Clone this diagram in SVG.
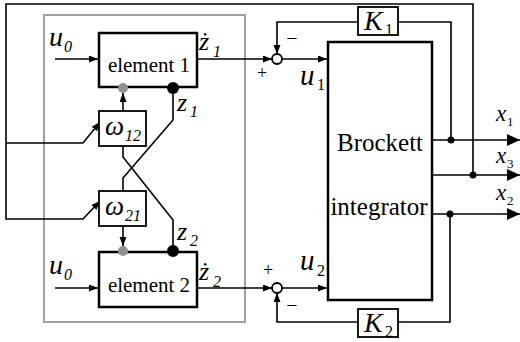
<svg xmlns="http://www.w3.org/2000/svg" width="520" height="342" viewBox="0 0 520 342">
<style>
.ln{fill:none;stroke:#000;stroke-width:1.6}
.box{fill:#fff;stroke:#000;stroke-width:2.5}
.sbox{fill:#fff;stroke:#000;stroke-width:1.8}
.i{font-style:italic}
.big{font-size:25px}
.el{font-size:21px}
.var{font-size:28px}
.sub{font-size:16px}
.sum{fill:#fff;stroke:#000;stroke-width:1.8}
</style>
<defs>
<marker id="a" markerUnits="userSpaceOnUse" markerWidth="10" markerHeight="8" refX="9" refY="3.5" orient="auto"><path d="M0,0 L9,3.5 L0,7 z" fill="#000"/></marker>
<marker id="A" markerUnits="userSpaceOnUse" markerWidth="14" markerHeight="13" refX="13" refY="6" orient="auto"><path d="M0,0 L13,6 L0,12 z" fill="#000"/></marker>
</defs>
<rect x="44" y="15" width="201" height="307" fill="none" stroke="#a0a0a0" stroke-width="2"/>
<g id="connectors">
<polyline class="ln" points="473,175 473,4 6,4 6,219 83,219 100,201" marker-end="url(#a)"/>
<polyline class="ln" points="6,143 83,143 100,122" marker-end="url(#a)"/>
<line class="ln" x1="55" y1="59" x2="98" y2="59" marker-end="url(#a)"/>
<line class="ln" x1="55" y1="288" x2="98" y2="288" marker-end="url(#a)"/>
<line class="ln" x1="197" y1="59" x2="272" y2="59" marker-end="url(#a)"/>
<line class="ln" x1="282" y1="59" x2="327" y2="59" marker-end="url(#a)"/>
<line class="ln" x1="197" y1="288" x2="272" y2="288" marker-end="url(#a)"/>
<line class="ln" x1="282" y1="288" x2="327" y2="288" marker-end="url(#a)"/>
<polyline class="ln" points="451,140 451,22 398,22"/>
<polyline class="ln" points="358,22 277,22 277,54" marker-end="url(#a)"/>
<polyline class="ln" points="450,214 450,322 398,322"/>
<polyline class="ln" points="358,322 277,322 277,293" marker-end="url(#a)"/>
<line class="ln" x1="432" y1="140" x2="520" y2="140" marker-end="url(#A)"/>
<line class="ln" x1="432" y1="175" x2="520" y2="175" marker-end="url(#A)"/>
<line class="ln" x1="432" y1="214" x2="520" y2="214" marker-end="url(#A)"/>
<line class="ln" x1="123" y1="111" x2="123" y2="93" marker-end="url(#a)"/>
<line class="ln" x1="123" y1="226" x2="123" y2="246" marker-end="url(#a)"/>
<polyline class="ln" points="123,146 123,157 173,220 173,251"/>
<polyline class="ln" points="173,88 173,120 123,178 123,191"/>
<circle cx="451" cy="140" r="3.5"/>
<circle cx="473" cy="175" r="3.5"/>
<circle cx="450" cy="214" r="3.5"/>
</g>
<g font-family="Liberation Serif, Tinos, Times New Roman, DejaVu Serif, serif" fill="#000">
<g id="element1">
<rect class="box" x="99" y="33" width="98" height="54"/>
<text class="el" x="149" y="72" text-anchor="middle">element 1</text>
<circle cx="123" cy="88" r="5" fill="#909090"/>
<circle cx="173" cy="88" r="6" fill="#000"/>
</g>
<g id="element2">
<rect class="box" x="99" y="252" width="98" height="55"/>
<text class="el" x="149" y="292" text-anchor="middle">element 2</text>
<circle cx="123" cy="251" r="5" fill="#909090"/>
<circle cx="173" cy="251" r="6" fill="#000"/>
</g>
<g id="omega12">
<rect class="sbox" x="99" y="111" width="47" height="35"/>
<text class="i" x="105" y="135" font-size="27">ω</text>
<text class="i sub" x="125" y="141">12</text>
</g>
<g id="omega21">
<rect class="sbox" x="99" y="191" width="47" height="35"/>
<text class="i" x="105" y="215" font-size="27">ω</text>
<text class="i sub" x="125" y="221">21</text>
</g>
<g id="sum1"><circle class="sum" cx="277" cy="59" r="5"/></g>
<g id="sum2"><circle class="sum" cx="277" cy="288" r="5"/></g>
<g id="brockett">
<rect class="box" x="328" y="42" width="104" height="258"/>
<text class="big" x="380" y="151" text-anchor="middle">Brockett</text>
<text class="big" x="379" y="215" text-anchor="middle">integrator</text>
</g>
<g id="K1">
<rect class="sbox" x="358" y="7" width="40" height="28" stroke-width="2.2"/>
<text class="i" x="364" y="30" font-size="28">K</text>
<text x="385" y="35" font-size="16">1</text>
</g>
<g id="K2">
<rect class="sbox" x="358" y="309" width="40" height="28" stroke-width="2.2"/>
<text class="i" x="364" y="332" font-size="28">K</text>
<text x="385" y="337" font-size="16">2</text>
</g>
<g id="labels">
<text class="i var" x="49" y="46">u</text><text class="i sub" x="64" y="52">0</text>
<text class="i var" x="49" y="274">u</text><text class="i sub" x="64" y="280">0</text>
<text class="i" x="199" y="50" font-size="26">ż</text><text class="i sub" x="213" y="57">1</text>
<text class="i" x="199" y="280" font-size="26">ż</text><text class="i sub" x="213" y="287">2</text>
<text class="i" x="177" y="111" font-size="26">z</text><text class="i sub" x="190" y="117">1</text>
<text class="i" x="177" y="240" font-size="26">z</text><text class="i sub" x="190" y="246">2</text>
<text class="i" x="300" y="85" font-size="29">u</text><text x="317" y="90" font-size="16">1</text>
<text class="i" x="300" y="270" font-size="29">u</text><text x="317" y="276" font-size="16">2</text>
<text x="262" y="79" font-size="18" text-anchor="middle">+</text>
<text x="268" y="276" font-size="18" text-anchor="middle">+</text>
<text x="292" y="45" font-size="20" text-anchor="middle">−</text>
<text x="292" y="312" font-size="20" text-anchor="middle">−</text>
<text class="i" x="496" y="121" font-size="23">x</text><text x="507" y="126" font-size="13">1</text>
<text class="i" x="496" y="163" font-size="23">x</text><text x="507" y="168" font-size="13">3</text>
<text class="i" x="496" y="200" font-size="23">x</text><text x="507" y="205" font-size="13">2</text>
</g>
</g>
</svg>
